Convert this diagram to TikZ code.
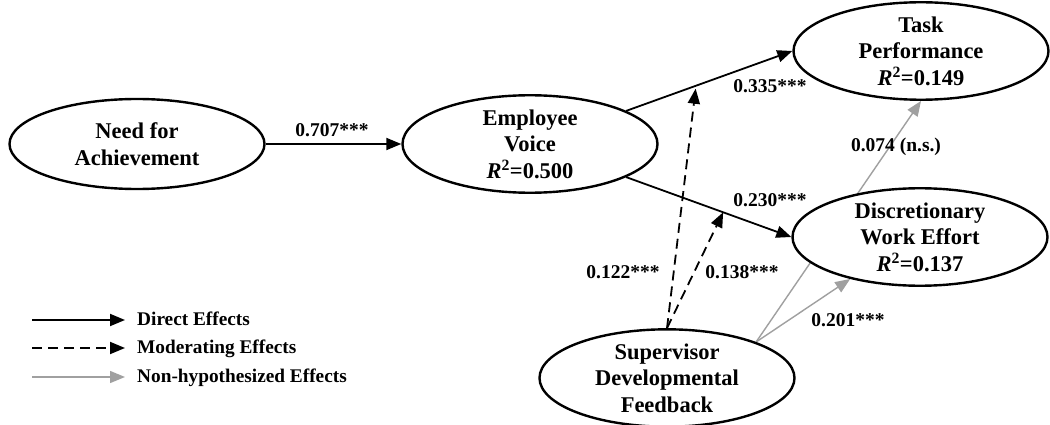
\documentclass[tikz,border=0pt]{standalone}
\usepackage{fontspec}
\setmainfont{Liberation Serif}
\usetikzlibrary{shapes.geometric,arrows.meta,backgrounds}
\definecolor{nhgray}{RGB}{160,160,160}
\begin{document}
\begin{tikzpicture}[x=1pt,y=-1pt,
 construct/.style={ellipse, draw, line width=2.4pt, fill=white, minimum width=255pt, minimum height=92pt, inner sep=0pt, align=center, font=\bfseries\fontsize{22.5}{26.5}\selectfont},
 coef/.style={font=\bfseries\fontsize{19.5}{22}\selectfont, inner sep=0pt},
 legtext/.style={font=\bfseries\fontsize{19.3}{22}\selectfont, inner sep=0pt, anchor=base west},
 direct/.style={line width=1.8pt, -{Triangle[length=15pt,width=12pt]}},
 moder/.style={direct, dash pattern=on 10pt off 6pt},
 nonhyp/.style={line width=1.4pt, draw=nhgray, -{Triangle[length=15pt,width=12pt,fill=nhgray]}},
]
\useasboundingbox (0,0) rectangle (1050,425);

% constructs
\node[construct, minimum height=90pt] (nfa) at (137,144) {Need for\\Achievement};
\node[construct] (ev) at (530,144) {Employee\\Voice\\\textit{R}\textsuperscript{2}=0.500};
\node[construct] (tp) at (921,51) {Task\\Performance\\\textit{R}\textsuperscript{2}=0.149};
\node[construct] (dwe) at (920,237) {Discretionary\\Work Effort\\\textit{R}\textsuperscript{2}=0.137};
\node[construct] (sdf) at (667,378) {Supervisor\\Developmental\\Feedback};

% direct effects
\draw[direct] (nfa) -- (ev);
\draw[direct] (ev.19) -- (tp.west) coordinate[pos=0.42] (m1);
\draw[direct] (ev.-19) -- (dwe.west) coordinate[pos=0.587] (m2);

% moderating effects
\draw[moder, shorten >=3pt] (sdf.north) -- (m1);
\draw[moder] (sdf.north) -- (m2);

% non-hypothesized effects (under the ellipses)
\begin{scope}[on background layer]
\fill[white] (0,0) rectangle (1050,425);
\draw[nonhyp] (sdf.22) -- (tp.south);
\draw[nonhyp] (sdf.22) -- (dwe.211);
\end{scope}

% coefficients
\node[coef] (l707) at (332,130) {0.707***};
\node[coef] (l335) at (770,86) {0.335***};
\node[coef] (l230) at (770,200) {0.230***};
\node[coef] (l122) at (623,272) {0.122***};
\node[coef] (l138) at (742,272) {0.138***};
\node[coef] (l074) at (896,147) {0.074 (n.s.)};
\node[coef] (l201) at (848,320) {0.201***};

% legend
\node[legtext] (lg1) at (137,325.5) {Direct Effects};
\node[legtext] (lg2) at (137,353.5) {Moderating Effects};
\node[legtext] (lg3) at (137,382.5) {Non-hypothesized Effects};
\coordinate (ls1) at (32,320);
\coordinate (ls2) at (32,348);
\coordinate (ls3) at (32,377);
\draw[direct, shorten >=12pt] (ls1) -- (ls1 -| lg1.west);
\draw[moder, shorten >=12pt] (ls2) -- (ls2 -| lg2.west);
\draw[nonhyp, shorten >=12pt] (ls3) -- (ls3 -| lg3.west);
\end{tikzpicture}
\end{document}
